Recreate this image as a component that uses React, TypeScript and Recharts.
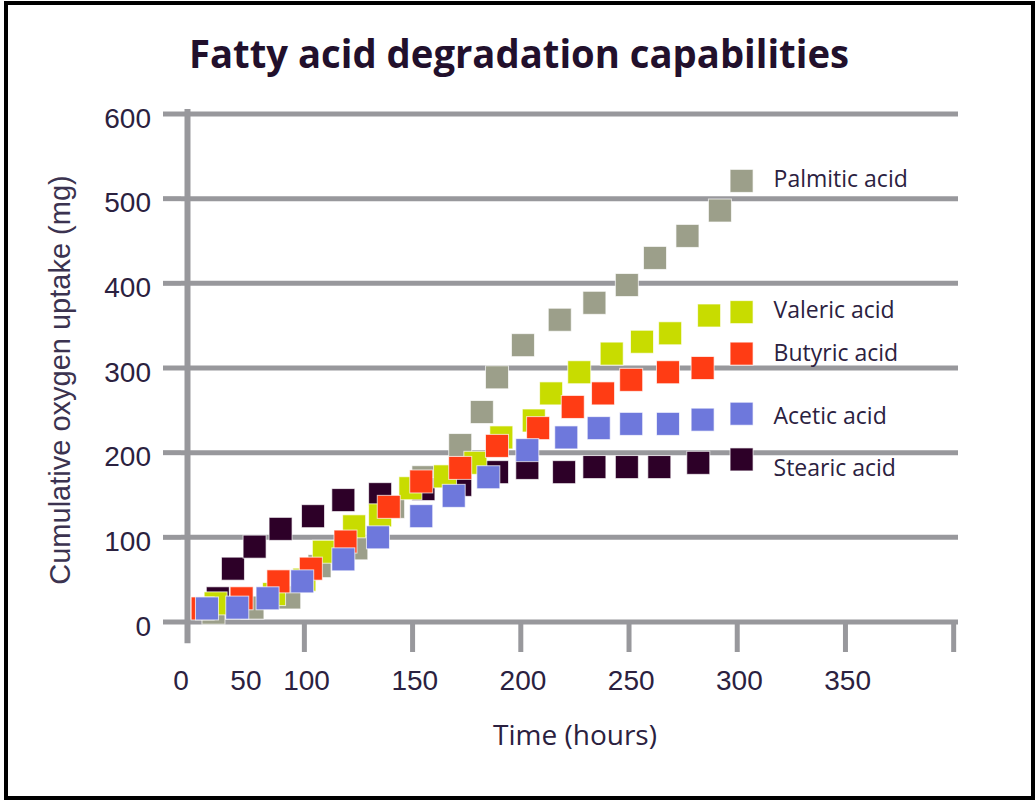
import {
  ScatterChart,
  Scatter,
  XAxis,
  YAxis,
  CartesianGrid,
  ReferenceLine,
  Label,
} from "recharts";

// values (hours, cumulative mg)
const palmiticHours = [58, 76, 93, 107, 124, 141, 155, 172, 182, 189, 201, 218, 234, 249, 262, 277, 292, 302];
const palmiticUptake = [11, 17, 29, 66, 87, 136, 171, 209, 248, 289, 327, 357, 377, 398, 430, 456, 486, 521];

const stearicHours = [60, 67, 77, 89, 104, 118, 135, 155, 172, 189, 203, 220, 234, 249, 264, 282, 302];
const stearicUptake = [28, 63, 89, 110, 125, 144, 151, 157, 162, 177, 182, 177, 183, 183, 183, 188, 192];

const valericHours = [59, 86, 100, 109, 123, 135, 149, 165, 179, 191, 206, 214, 227, 242, 256, 269, 287, 302];
const valericUptake = [22, 33, 50, 83, 113, 126, 158, 172, 188, 218, 238, 270, 295, 317, 331, 341, 362, 366];

const butyricHours = [53, 71, 88, 103, 119, 139, 154, 172, 189, 208, 224, 238, 251, 268, 284, 302];
const butyricUptake = [16, 28, 48, 63, 95, 136, 166, 182, 208, 229, 254, 270, 286, 295, 300, 317];

const aceticHours = [55, 69, 83, 99, 118, 134, 154, 169, 185, 203, 221, 236, 251, 268, 284, 302];
const aceticUptake = [16, 17, 28, 48, 74, 100, 125, 149, 171, 203, 218, 229, 234, 234, 239, 246];

const yTicks = [0, 100, 200, 300, 400, 500, 600];
const xGridTicks = [100, 150, 200, 250, 300, 350, 400];
const xLabelTicks = [43, 73, 101, 151, 201, 251, 301, 351];
const xTickLabels = ["0", "50", "100", "150", "200", "250", "300", "350"];

const GRID = "#98989c";
const INK = "#2b2140";

const series = [
  { name: "Palmitic acid", hours: palmiticHours, uptake: palmiticUptake, color: "#9c9f8a", labelDy: -3 },
  { name: "Stearic acid", hours: stearicHours, uptake: stearicUptake, color: "#2d0028", labelDy: 8 },
  { name: "Valeric acid", hours: valericHours, uptake: valericUptake, color: "#c8dc00", labelDy: -3 },
  { name: "Butyric acid", hours: butyricHours, uptake: butyricUptake, color: "#ff3c14", labelDy: -2 },
  { name: "Acetic acid", hours: aceticHours, uptake: aceticUptake, color: "#6e78dc", labelDy: 1 },
];

const toRows = (hours: number[], uptake: number[], name: string) =>
  hours.map((h, i) => ({ h, mg: uptake[i], tag: i === hours.length - 1 ? name : null }));

const SIZE = 23;

const square = (labelDy: number) => (props: any) => {
  const { cx, cy, fill, payload } = props;
  if (cx == null || cy == null) return <g />;
  return (
    <g>
      <rect
        x={cx - SIZE / 2}
        y={cy - SIZE / 2}
        width={SIZE}
        height={SIZE}
        fill={fill}
        stroke="#ffffff"
        strokeOpacity={0.7}
        strokeWidth={1}
      />
      {payload?.tag && (
        <text
          x={cx + 32}
          y={cy + labelDy}
          dominantBaseline="central"
          fontFamily="'Open Sans', sans-serif"
          fontSize={23}
          fill={INK}
        >
          {payload.tag}
        </text>
      )}
    </g>
  );
};

const XTick = (props: any) => {
  const { x, y, payload } = props;
  const v = payload.value;
  const li = xLabelTicks.indexOf(v);
  return (
    <g>
      {xGridTicks.includes(v) && (
        <line x1={x} x2={x} y1={y} y2={y + 30} stroke={GRID} strokeWidth={5} />
      )}
      {li >= 0 && (
        <text
          x={x}
          y={y + 68}
          textAnchor="middle"
          fontFamily="'Liberation Sans', Arial, sans-serif"
          fontSize={28}
          fill={INK}
        >
          {xTickLabels[li]}
        </text>
      )}
    </g>
  );
};

const YTick = (props: any) => {
  const { x, y, payload } = props;
  return (
    <text
      x={x}
      y={y + 4}
      textAnchor="end"
      dominantBaseline="central"
      fontFamily="'Liberation Sans', Arial, sans-serif"
      fontSize={28}
      fill={INK}
    >
      {payload.value}
    </text>
  );
};

const XTitle = (props: any) => {
  const vb = props.viewBox || { x: 181, y: 622, width: 777 };
  return (
    <text
      x={575}
      y={vb.y + 123}
      textAnchor="middle"
      fontFamily="'Open Sans', sans-serif"
      fontSize={28}
      fill={INK}
    >
      Time (hours)
    </text>
  );
};

const YTitle = (props: any) => {
  const vb = props.viewBox || { x: 0, y: 114, height: 508 };
  const cy = vb.y + vb.height / 2 + 12;
  return (
    <text
      x={70}
      y={cy}
      transform={`rotate(-90, 70, ${cy})`}
      textAnchor="middle"
      fontFamily="'Liberation Sans', Arial, sans-serif"
      fontSize={29}
      fill="#3b3350"
    >
      Cumulative oxygen uptake (mg)
    </text>
  );
};

export default function App() {
  return (
    <div style={{ position: "absolute", left: 0, top: 0, width: 1035, height: 800, background: "#fff" }}>
      <svg width={1035} height={100} style={{ position: "absolute", left: 0, top: 0 }}>
        <text
          x={519}
          y={68}
          textAnchor="middle"
          fontFamily="'Open Sans', sans-serif"
          fontWeight={700}
          fontSize={40}
          textLength={660}
          lengthAdjust="spacingAndGlyphs"
          fill="#22102c"
        >
          Fatty acid degradation capabilities
        </text>
      </svg>
      <div style={{ position: "absolute", left: 0, top: 0 }}>
        <ScatterChart width={1035} height={800} margin={{ top: 114, right: 77, bottom: 148, left: 0 }}>
          <CartesianGrid vertical={false} stroke={GRID} strokeWidth={5} />
          <XAxis
            type="number"
            dataKey="h"
            domain={[43, 402]}
            ticks={[...xLabelTicks, ...xGridTicks].sort((a, b) => a - b)}
            interval={0}
            allowDataOverflow
            axisLine={false}
            tickLine={false}
            tickSize={0}
            tickMargin={0}
            tick={<XTick />}
            height={30}
          >
            <Label content={<XTitle />} />
          </XAxis>
          <YAxis
            type="number"
            dataKey="mg"
            domain={[0, 600]}
            ticks={yTicks}
            interval={0}
            axisLine={false}
            tickLine={{ stroke: GRID, strokeWidth: 5 }}
            tickSize={18}
            tickMargin={12}
            tick={<YTick />}
            width={181}
          >
            <Label content={<YTitle />} />
          </YAxis>
          <ReferenceLine
            ifOverflow="visible"
            segment={[
              { x: 46, y: -25 },
              { x: 46, y: 606 },
            ]}
            stroke={GRID}
            strokeWidth={6}
          />
          {series.map((s) => (
            <Scatter
              key={s.name}
              name={s.name}
              data={toRows(s.hours, s.uptake, s.name)}
              fill={s.color}
              shape={square(s.labelDy)}
              isAnimationActive={false}
            />
          ))}
        </ScatterChart>
      </div>
      <div
        style={{
          position: "absolute",
          left: 4,
          top: 1,
          right: 0,
          bottom: 0,
          border: "4px solid #000",
          pointerEvents: "none",
        }}
      />
    </div>
  );
}
